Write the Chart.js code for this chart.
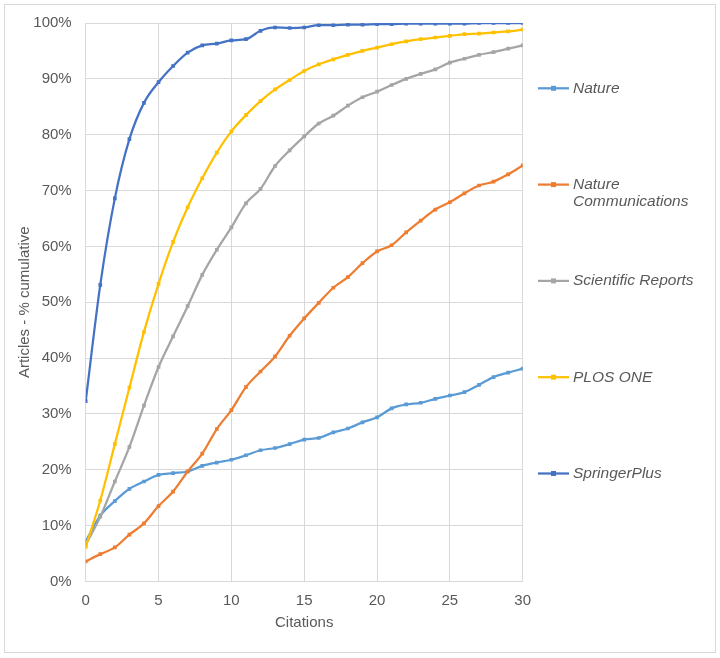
<!DOCTYPE html>
<html>
<head>
<meta charset="utf-8">
<script src="https://cdn.jsdelivr.net/npm/chart.js@4/dist/chart.umd.min.js"></script>
<style>
  html, body { margin: 0; padding: 0; background: #ffffff; }
  #wrap { width: 720px; height: 658px; position: relative; }
</style>
</head>
<body>
<div id="wrap"><canvas id="c" width="720" height="658"></canvas></div>
<script>
const citations = [0,1,2,3,4,5,6,7,8,9,10,11,12,13,14,15,16,17,18,19,20,21,22,23,24,25,26,27,28,29,30];
const seriesNames = ["Nature", "Nature Communications", "Scientific Reports", "PLOS ONE", "SpringerPlus"];
const nature = [7.2,11.8,14.4,16.6,17.9,19.1,19.4,19.7,20.7,21.3,21.8,22.6,23.5,23.9,24.6,25.4,25.7,26.7,27.4,28.5,29.4,31.0,31.7,32.0,32.7,33.3,33.9,35.2,36.6,37.4,38.1];
const natureComms = [3.6,4.9,6.1,8.4,10.4,13.5,16.1,19.7,22.9,27.3,30.7,34.8,37.6,40.3,44.0,47.1,49.9,52.6,54.5,57.0,59.1,60.2,62.5,64.6,66.6,67.9,69.5,70.9,71.6,72.9,74.5];
const sciReports = [6.6,11.6,17.9,24.1,31.5,38.4,43.9,49.3,54.9,59.4,63.4,67.7,70.3,74.4,77.2,79.7,82.0,83.4,85.2,86.7,87.7,88.9,90.0,90.9,91.7,92.9,93.6,94.3,94.8,95.4,96.0];
const plosOne = [6.2,14.5,24.6,34.7,44.7,53.3,60.8,67.0,72.2,76.8,80.6,83.5,86.0,88.1,89.8,91.4,92.6,93.5,94.3,95.0,95.6,96.2,96.7,97.1,97.4,97.7,98.0,98.1,98.3,98.5,98.8];
const springerPlus = [32.3,53.1,68.6,79.2,85.7,89.4,92.3,94.7,96.0,96.3,96.9,97.1,98.6,99.2,99.1,99.2,99.6,99.6,99.7,99.7,99.8,99.8,99.9,99.9,99.9,99.9,99.9,100.0,100.0,100.0,100.0];
const yTicks = [0,10,20,30,40,50,60,70,80,90,100];
const xTicks = [0,5,10,15,20,25,30];

const colors = ["#5B9BD5", "#ED7D31", "#A5A5A5", "#FFC000", "#4472C4"];
const allSeries = [nature, natureComms, sciReports, plosOne, springerPlus];
const textColor = "#595959";
const gridColor = "#D9D9D9";
const FONT = "'Liberation Sans', Arial, sans-serif";

const datasets = allSeries.map((vals, i) => ({
  label: seriesNames[i],
  data: citations.map((c, k) => ({ x: c, y: vals[k] })),
  borderColor: colors[i],
  backgroundColor: colors[i],
  borderWidth: 2.25,
  pointStyle: 'rect',
  pointRadius: 2.6,
  pointBorderWidth: 0,
  pointHoverRadius: 3,
  cubicInterpolationMode: 'monotone',
  fill: false,
  order: allSeries.length - i
}));

const frame = {
  id: 'frame',
  beforeDraw(chart) {
    const ctx = chart.ctx;
    ctx.save();
    ctx.fillStyle = '#ffffff';
    ctx.fillRect(0, 0, chart.width, chart.height);
    ctx.strokeStyle = gridColor;
    ctx.lineWidth = 1;
    ctx.strokeRect(4.5, 4.5, 711, 648);
    ctx.restore();
  }
};

const sideLegend = {
  id: 'sideLegend',
  afterDraw(chart) {
    const ctx = chart.ctx;
    ctx.save();
    const x0 = 538, x1 = 569, tx = 573, y0 = 88.3, step = 96.3, lh = 17.5, maxW = 138;
    ctx.font = "italic 15.5px " + FONT;
    ctx.textBaseline = 'middle';
    ctx.textAlign = 'left';
    chart.data.datasets.forEach((ds, i) => {
      const y = y0 + i * step;
      ctx.strokeStyle = ds.borderColor;
      ctx.lineWidth = 2.25;
      ctx.beginPath();
      ctx.moveTo(x0, y);
      ctx.lineTo(x1, y);
      ctx.stroke();
      ctx.fillStyle = ds.borderColor;
      ctx.fillRect((x0 + x1) / 2 - 2.5, y - 2.5, 5, 5);
      const words = ds.label.split(' ');
      const lines = [];
      let cur = '';
      words.forEach(w => {
        const t = cur ? cur + ' ' + w : w;
        if (ctx.measureText(t).width > maxW && cur) { lines.push(cur); cur = w; }
        else cur = t;
      });
      if (cur) lines.push(cur);
      ctx.fillStyle = textColor;
      lines.forEach((ln, k) => ctx.fillText(ln, tx, y + k * lh));
    });
    ctx.restore();
  }
};

new Chart(document.getElementById('c'), {
  type: 'line',
  data: { datasets },
  plugins: [frame, sideLegend],
  options: {
    responsive: false,
    animation: false,
    devicePixelRatio: 1,
    layout: { padding: { left: 0, right: 197.3, top: 21, bottom: 0 } },
    plugins: {
      legend: { display: false },
      tooltip: { enabled: false }
    },
    scales: {
      x: {
        type: 'linear',
        min: 0,
        max: 30,
        afterBuildTicks(scale) { scale.ticks = xTicks.map(v => ({ value: v })); },
        afterFit(scale) { scale.height = 76.5; },
        grid: { color: gridColor, lineWidth: 1, drawTicks: false },
        border: { color: gridColor, width: 1 },
        ticks: { color: textColor, font: { family: FONT, size: 15 }, padding: 10, maxRotation: 0 },
        title: { display: true, text: 'Citations', color: textColor, font: { family: FONT, size: 15 }, padding: { top: 4, bottom: 26 } }
      },
      y: {
        type: 'linear',
        min: 0,
        max: 100,
        afterBuildTicks(scale) { scale.ticks = yTicks.map(v => ({ value: v })); },
        afterFit(scale) { scale.width = 85.7; },
        grid: { color: gridColor, lineWidth: 1, drawTicks: false },
        border: { color: gridColor, width: 1 },
        ticks: { color: textColor, font: { family: FONT, size: 15 }, padding: 14, callback: v => v + '%' },
        title: { display: true, text: 'Articles - % cumulative', color: textColor, font: { family: FONT, size: 15 }, padding: { top: 16, bottom: 0 } }
      }
    }
  }
});
</script>
</body>
</html>
